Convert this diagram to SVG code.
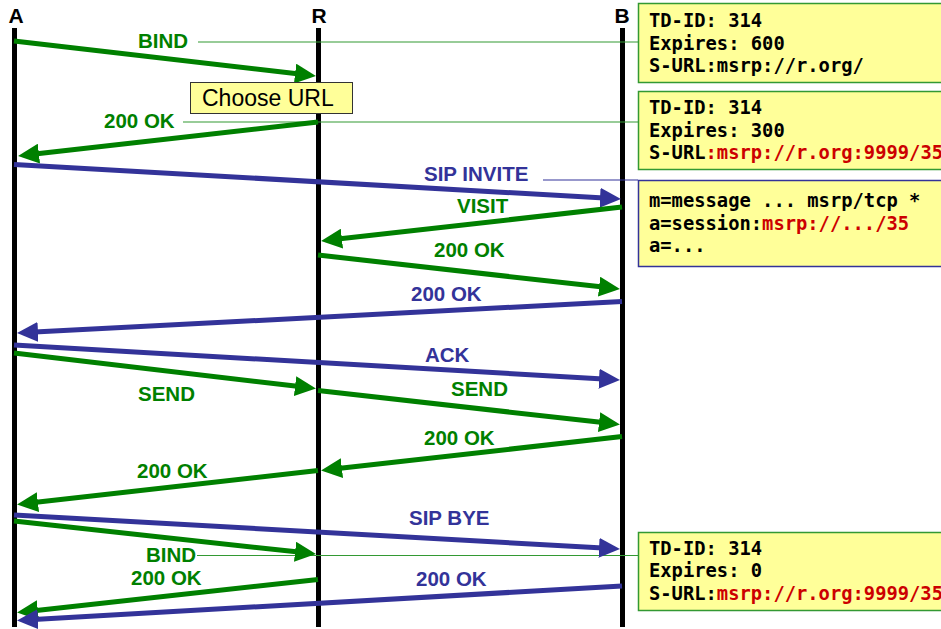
<svg xmlns="http://www.w3.org/2000/svg" width="941" height="629" viewBox="0 0 941 629">
<style>
.life{stroke:#000;stroke-width:5}
.hdr{font-family:"Liberation Sans",Arial,sans-serif;font-weight:bold;font-size:21px;fill:#000;text-anchor:middle}
.g{stroke:#008000;stroke-width:5;fill:none}
.b{stroke:#333399;stroke-width:5;fill:none}
.gl{font-family:"Liberation Sans",Arial,sans-serif;font-weight:bold;font-size:20.5px;fill:#008000}
.bl{font-family:"Liberation Sans",Arial,sans-serif;font-weight:bold;font-size:20.5px;fill:#333399}
.lead-g{stroke:#339933;stroke-width:1.2}
.lead-b{stroke:#333399;stroke-width:1.2}
.box{fill:#ffff99}
.bg{stroke:#339933;stroke-width:1.5}
.bb{stroke:#333399;stroke-width:1.5}
.mono{font-family:"DejaVu Sans Mono","Liberation Mono",monospace;font-weight:bold;font-size:18.8px;fill:#000}
.red{fill:#cc0000}
</style>
<defs>
<marker id="ag" viewBox="0 0 21 20" refX="13" refY="10" markerWidth="21" markerHeight="20" markerUnits="userSpaceOnUse" orient="auto"><path d="M0,0 L21,10 L0,20 Z" fill="#008000"/></marker>
<marker id="ab" viewBox="0 0 21 20" refX="13" refY="10" markerWidth="21" markerHeight="20" markerUnits="userSpaceOnUse" orient="auto"><path d="M0,0 L21,10 L0,20 Z" fill="#333399"/></marker>
</defs>
<rect width="941" height="629" fill="#fff"/>
<g id="lifelines">
<g id="A"><line class="life" x1="14.5" y1="28" x2="14.5" y2="627"/><text class="hdr" x="16" y="23">A</text></g>
<g id="R"><line class="life" x1="318.5" y1="28" x2="318.5" y2="627"/><text class="hdr" x="319" y="23">R</text></g>
<g id="B"><line class="life" x1="622.5" y1="28" x2="622.5" y2="627"/><text class="hdr" x="622" y="23">B</text></g>
</g>
<g id="connectors">
<line class="lead-g" x1="198" y1="42" x2="638" y2="42"/>
<line class="lead-g" x1="183" y1="122" x2="638" y2="122"/>
<line class="lead-b" x1="543" y1="180" x2="638" y2="180"/>
<line class="lead-g" x1="197" y1="555.5" x2="638" y2="555.5"/>
<line class="g" x1="14" y1="41" x2="308" y2="75.1" marker-end="url(#ag)"/>
<line class="g" x1="318" y1="122" x2="26" y2="155.1" marker-end="url(#ag)"/>
<line class="b" x1="14" y1="164.5" x2="613" y2="198.5" marker-end="url(#ab)"/>
<line class="g" x1="622" y1="207" x2="329" y2="240.1" marker-end="url(#ag)"/>
<line class="g" x1="318" y1="255" x2="612" y2="288.1" marker-end="url(#ag)"/>
<line class="b" x1="622" y1="301.5" x2="25" y2="332.6" marker-end="url(#ab)"/>
<line class="b" x1="14" y1="345" x2="612" y2="379.5" marker-end="url(#ab)"/>
<line class="g" x1="14" y1="353" x2="308" y2="387.6" marker-end="url(#ag)"/>
<line class="g" x1="318" y1="390.5" x2="612" y2="423.6" marker-end="url(#ag)"/>
<line class="g" x1="622" y1="436.5" x2="329" y2="469.6" marker-end="url(#ag)"/>
<line class="g" x1="318" y1="470.5" x2="25" y2="503.6" marker-end="url(#ag)"/>
<line class="b" x1="14" y1="515" x2="612" y2="548.6" marker-end="url(#ab)"/>
<line class="g" x1="14" y1="521" x2="308" y2="553.1" marker-end="url(#ag)"/>
<line class="g" x1="318" y1="579.5" x2="25" y2="611.7" marker-end="url(#ag)"/>
<line class="b" x1="622" y1="586" x2="25" y2="620" marker-end="url(#ab)"/>
</g>
<g id="labels">
<text class="gl" x="138" y="48">BIND</text>
<text class="gl" x="104" y="128">200 OK</text>
<text class="bl" x="424" y="181">SIP INVITE</text>
<text class="gl" x="457" y="213">VISIT</text>
<text class="gl" x="434" y="257">200 OK</text>
<text class="bl" x="411" y="301">200 OK</text>
<text class="bl" x="425" y="362">ACK</text>
<text class="gl" x="138" y="401">SEND</text>
<text class="gl" x="451" y="396">SEND</text>
<text class="gl" x="424" y="445">200 OK</text>
<text class="gl" x="137" y="478">200 OK</text>
<text class="bl" x="409" y="525">SIP BYE</text>
<text class="gl" x="146" y="562">BIND</text>
<text class="gl" x="131" y="585">200 OK</text>
<text class="bl" x="416" y="586">200 OK</text>
</g>
<g id="choose-url">
<rect x="190.5" y="82.5" width="162" height="31" fill="#ffff99" stroke="#333" stroke-width="1"/>
<text x="202" y="106" font-family="'Liberation Sans',Arial,sans-serif" font-size="23" fill="#000">Choose URL</text>
</g>
<g id="box1">
<rect class="box bg" x="638.5" y="3.5" width="320" height="79"/>
<text class="mono" x="649" y="27">TD-ID: 314</text>
<text class="mono" x="649" y="50">Expires: 600</text>
<text class="mono" x="649" y="72">S-URL:msrp://r.org/</text>
</g>
<g id="box2">
<rect class="box bg" x="638.5" y="91.5" width="320" height="78"/>
<text class="mono" x="649" y="114">TD-ID: 314</text>
<text class="mono" x="649" y="137">Expires: 300</text>
<text class="mono" x="649" y="159">S-URL<tspan class="red">:msrp://r.org:9999/35</tspan></text>
</g>
<g id="box3">
<rect class="box bb" x="638.5" y="180.5" width="320" height="86"/>
<text class="mono" x="649" y="207">m=message ... msrp/tcp *</text>
<text class="mono" x="649" y="230">a=session:<tspan class="red">msrp://.../35</tspan></text>
<text class="mono" x="649" y="252">a=...</text>
</g>
<g id="box4">
<rect class="box bg" x="638.5" y="532.5" width="320" height="78"/>
<text class="mono" x="649" y="555">TD-ID: 314</text>
<text class="mono" x="649" y="577">Expires: 0</text>
<text class="mono" x="649" y="600">S-URL:<tspan class="red">msrp://r.org:9999/35</tspan></text>
</g>
</svg>
